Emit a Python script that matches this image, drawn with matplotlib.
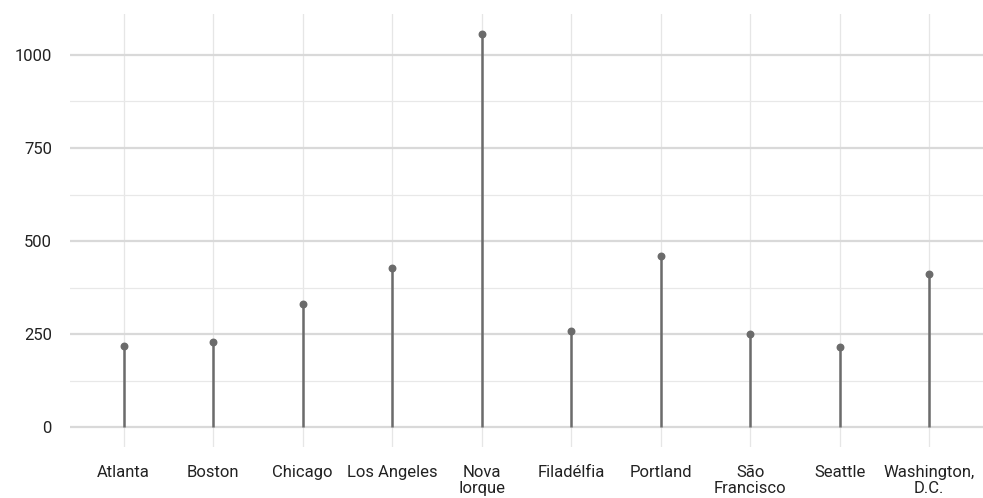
import matplotlib.pyplot as plt
from matplotlib.ticker import MultipleLocator

cities = ['Atlanta', 'Boston', 'Chicago', 'Los Angeles', 'Nova\nIorque',
          'Filadélfia', 'Portland', 'São\nFrancisco', 'Seattle', 'Washington,\nD.C.']
values = [219, 230, 330, 428, 1057, 258, 461, 250, 216, 413]

plt.rcParams['font.family'] = ['Roboto', 'DejaVu Sans']

fig = plt.figure(figsize=(9.83, 4.98), dpi=100)
ax = fig.add_axes([70 / 983, 51 / 498, 913 / 983, 433 / 498])

x = list(range(1, len(cities) + 1))
ax.vlines(x, 0, values, color='#6b6b6b', lw=1.8, zorder=3)
ax.scatter(x, values, color='#6b6b6b', s=22, zorder=4)

ax.set_xlim(0.4, 10.6)
ax.set_ylim(-52.85, 1109.85)
ax.set_xticks(x)
ax.set_xticklabels(cities, linespacing=1.1)
ax.yaxis.set_major_locator(MultipleLocator(250))
ax.yaxis.set_minor_locator(MultipleLocator(125))

ax.grid(axis='y', which='major', color='#d9d9d9', lw=1.6, zorder=0)
ax.grid(axis='y', which='minor', color='#e8e8e8', lw=0.9, zorder=0)
ax.grid(axis='x', which='major', color='#e6e6e6', lw=0.9, zorder=0)

for s in ax.spines.values():
    s.set_visible(False)
ax.tick_params(axis='both', which='both', length=0, labelsize=12, labelcolor='#222222')
ax.tick_params(axis='y', pad=13)
ax.tick_params(axis='x', pad=13)

fig.savefig('out.png', dpi=100)
